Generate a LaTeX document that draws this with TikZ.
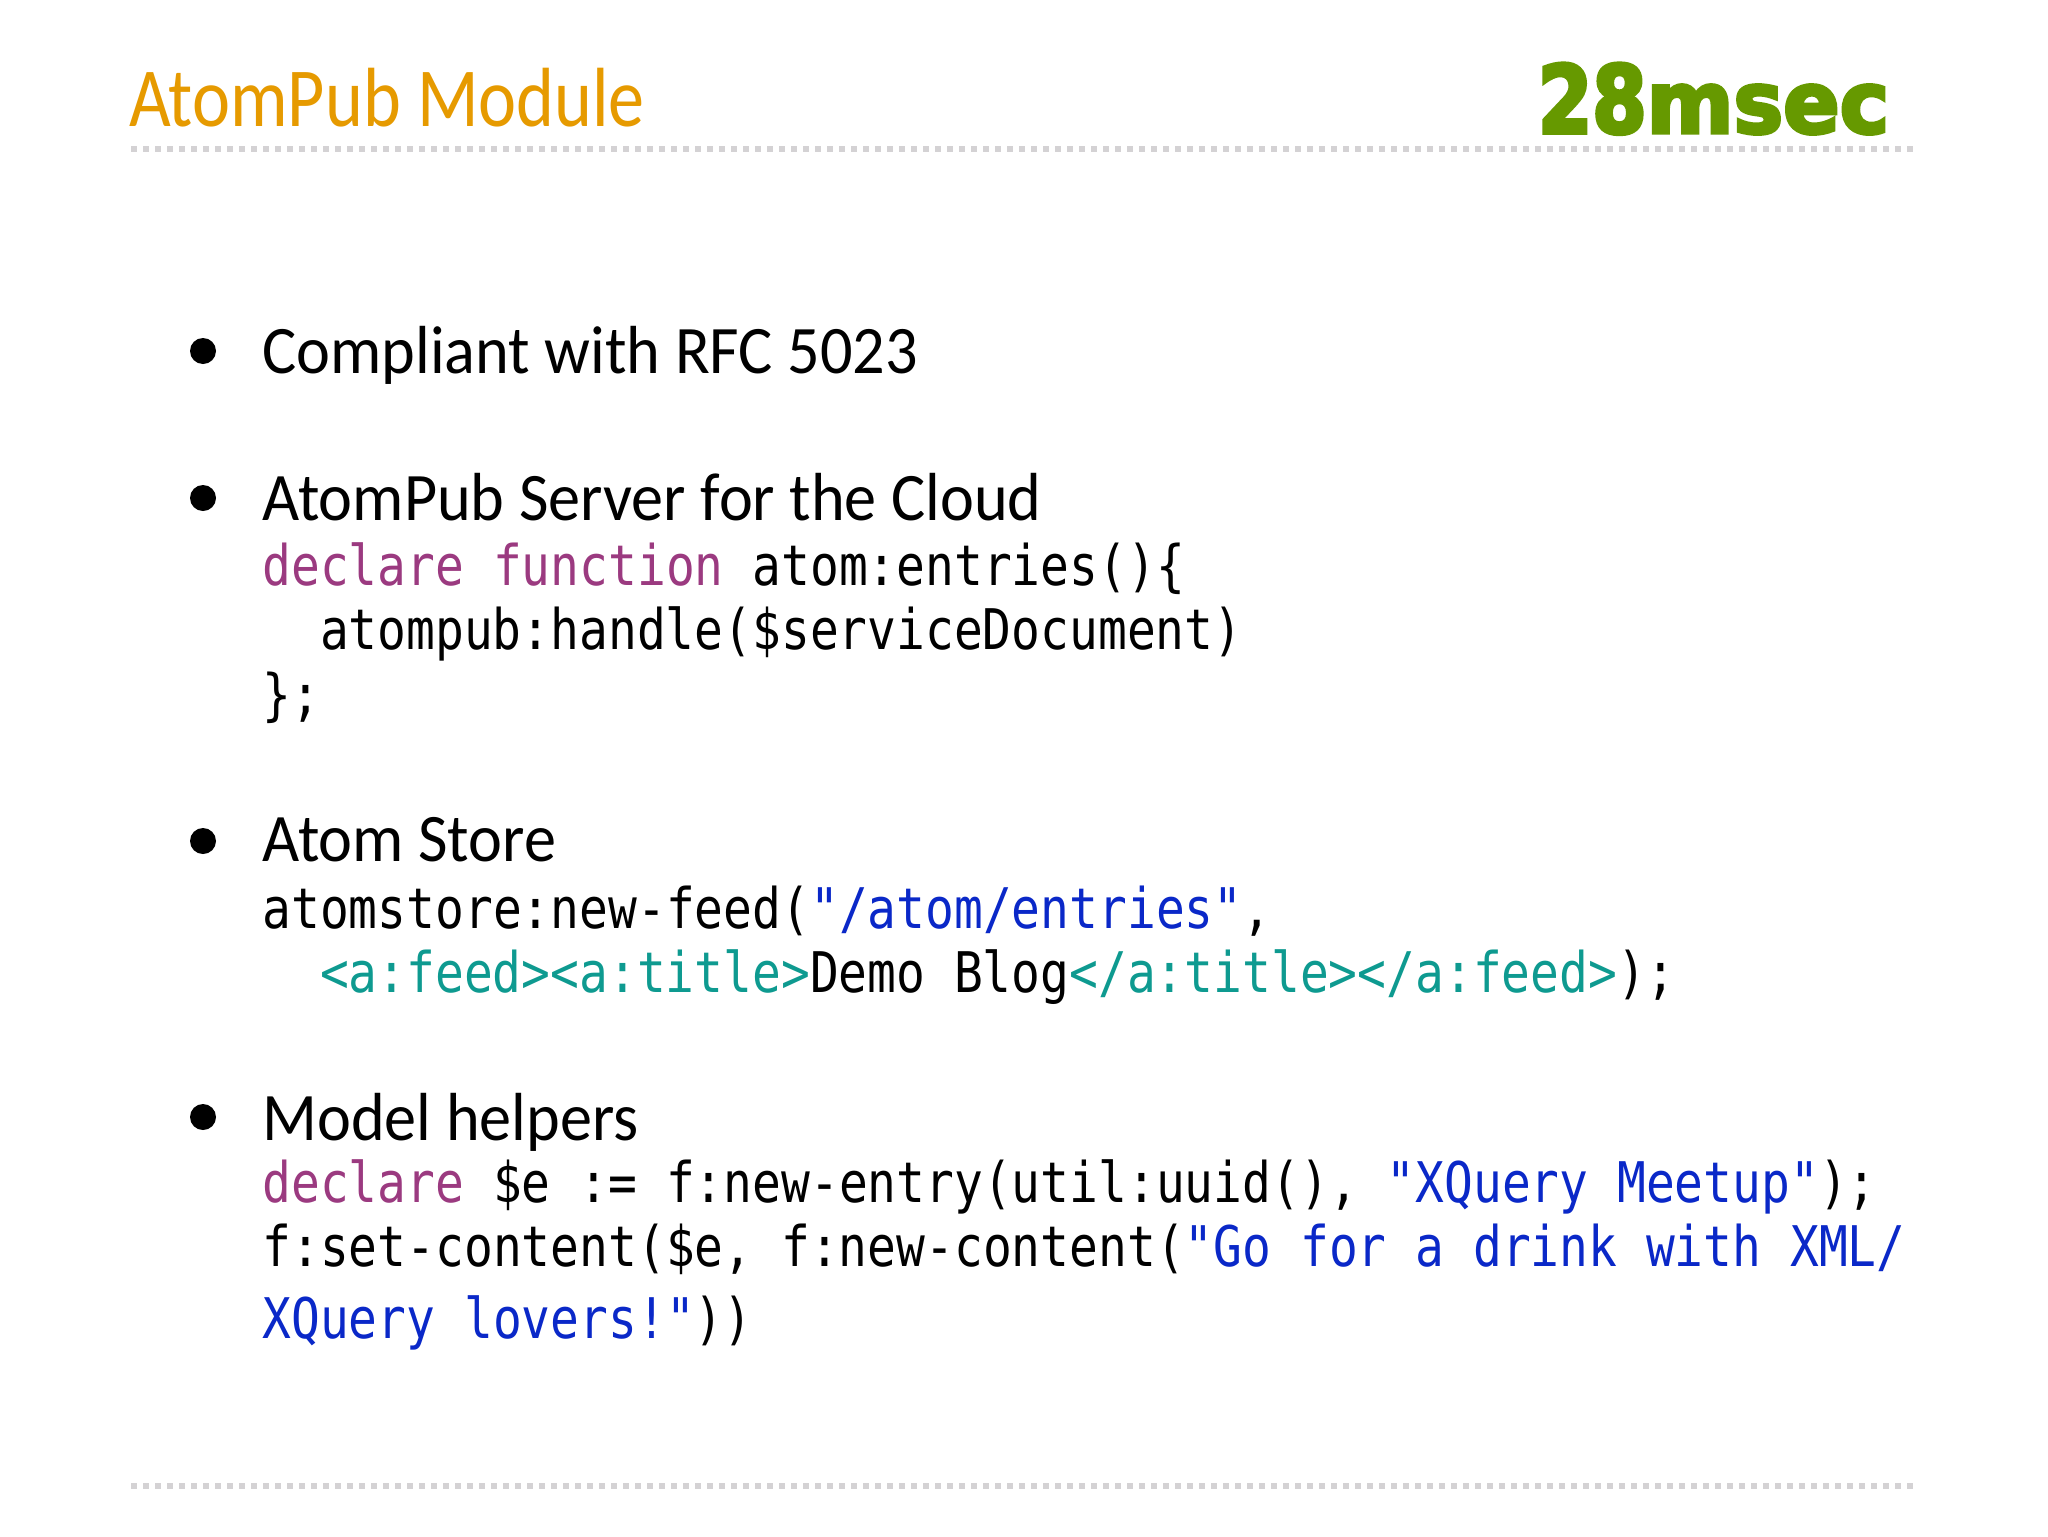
\documentclass[tikz,border=0pt]{standalone}
\usepackage{fontspec}
\setmainfont{Carlito}
\newfontfamily\titlefont[FakeStretch=0.858]{Carlito}
\newfontfamily\bodyfont[FakeStretch=0.944]{Carlito}
\newfontfamily\codefont[FakeStretch=0.855]{DejaVu Sans Mono}
\newfontfamily\logodigits[FakeBold=4,FakeStretch=0.83]{DejaVu Sans Bold}
\newfontfamily\logoletters[FakeBold=4,FakeStretch=0.97]{DejaVu Sans Bold}
\definecolor{titleor}{HTML}{E69A00}
\definecolor{kwpurple}{HTML}{9B3A80}
\definecolor{strblue}{HTML}{0A28C8}
\definecolor{xmlteal}{HTML}{0E9A90}
\definecolor{logogreen}{HTML}{669900}
\definecolor{dotgrey}{HTML}{D4D2D4}
\tikzset{
  x=0.5pt,y=-0.5pt,
  every node/.style={inner sep=0pt,outer sep=0pt,anchor=base west},
  titletext/.style={font=\titlefont\fontsize{42}{42}\selectfont,text=titleor},
  bodytext/.style={font=\bodyfont\fontsize{34}{34}\selectfont,text=black},
  codetext/.style={font=\codefont\fontsize{28}{28}\selectfont,text=black},
  logotext/.style={text=logogreen},
  bulletdot/.style={circle,fill=black,minimum size=13pt,anchor=center},
  dotrule/.style={draw=dotgrey,line width=3pt,dash pattern=on 3pt off 3pt},
}
\newcommand{\kw}[1]{\textcolor{kwpurple}{#1}}
\newcommand{\str}[1]{\textcolor{strblue}{#1}}
\newcommand{\xm}[1]{\textcolor{xmlteal}{#1}}
\begin{document}
\begin{tikzpicture}
\useasboundingbox (0,0) rectangle (2048,1536);
\fill[white] (0,0) rectangle (2048,1536);
\coordinate (r1a) at (131,149); \coordinate (r1b) at (1917,149);
\coordinate (r2a) at (131,1486); \coordinate (r2b) at (1917,1486);
\draw[dotrule] (r1a) -- (r1b);
\draw[dotrule] (r2a) -- (r2b);
\node[titletext] (title) at (129,126.5) {AtomPub Module};
\node[logotext] (logo) at (1538,133) {{\logodigits\fontsize{47}{47}\selectfont 28}{\logoletters\fontsize{43}{43}\selectfont msec}};
\node[bulletdot] (b1) at (203,351) {};
\node[bulletdot] (b2) at (203,498) {};
\node[bulletdot] (b3) at (203,841) {};
\node[bulletdot] (b4) at (203,1117) {};
\node[bodytext] (t1) at (262.5,373) {Compliant with RFC 5023};
\node[bodytext] (t2) at (262.5,520) {AtomPub Server for the Cloud};
\node[bodytext] (t3) at (262.5,861) {Atom Store};
\node[bodytext] (t4) at (262.5,1140) {Model helpers};
\node[codetext] (c1) at (262.5,585) {\kw{declare function} atom:entries()\{};
\node[codetext] (c2) at (320,649) {atompub:handle(\$serviceDocument)};
\node[codetext] (c3) at (262.5,714) {\};};
\node[codetext] (c4) at (262.5,928) {atomstore:new-feed(\str{"/atom/entries"},};
\node[codetext] (c5) at (320,992) {\xm{<a:feed><a:title>}Demo Blog\xm{</a:title></a:feed>});};
\node[codetext] (c6) at (262.5,1202) {\kw{declare} \$e := f:new-entry(util:uuid(), \str{"XQuery Meetup"});};
\node[codetext] (c7) at (262.5,1266) {f:set-content(\$e, f:new-content(\str{"Go for a drink with XML/}};
\node[codetext] (c8) at (262.5,1338) {\str{XQuery lovers!"}))};
\end{tikzpicture}
\end{document}
